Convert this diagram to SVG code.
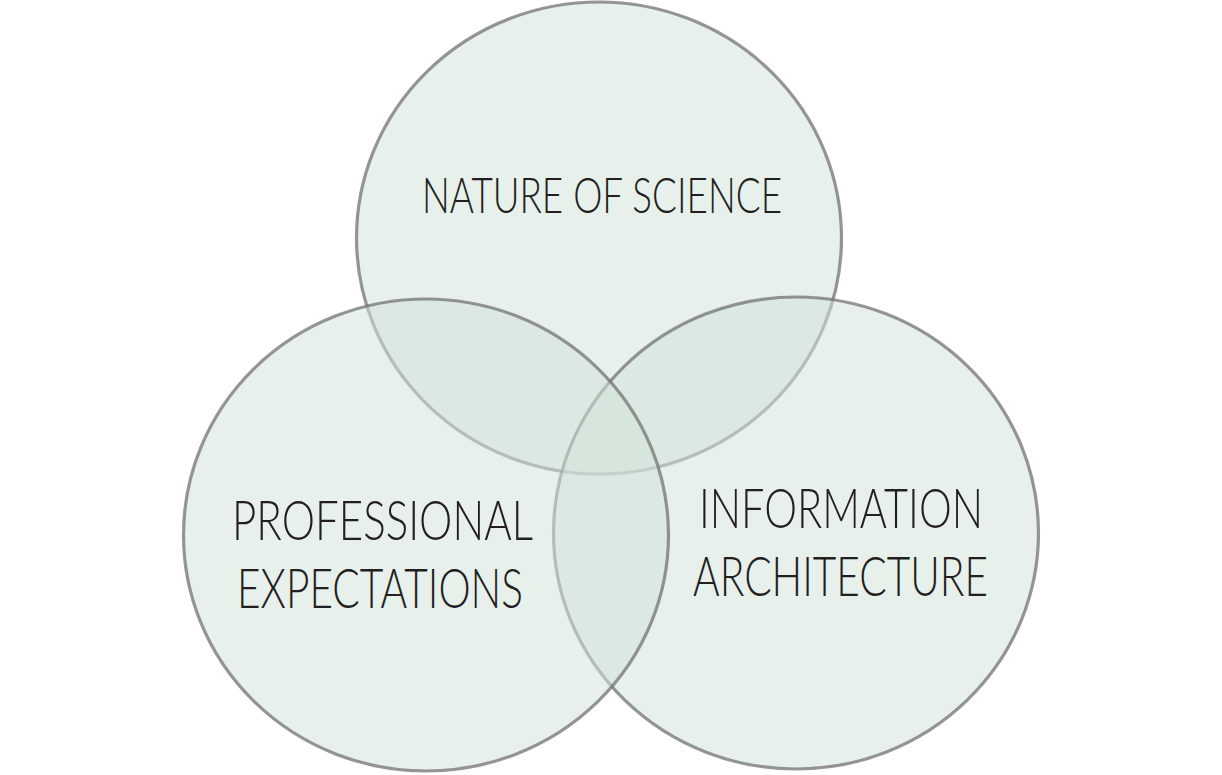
<svg xmlns="http://www.w3.org/2000/svg" width="1222" height="775" viewBox="0 0 1222 775">
  <style>
    .set { fill: #d2e3d9; fill-opacity: 0.53; stroke: #737373; stroke-opacity: 0.75; stroke-width: 3.2; }
    .lbl { font-family: Lato, "Liberation Sans", sans-serif; font-weight: 300; fill: #231f20; }
  </style>
  <rect width="1222" height="775" fill="#ffffff"/>
  <g id="nature-of-science">
    <ellipse class="set" cx="599" cy="238" rx="242.5" ry="236"/>
    <text class="lbl" x="422" y="213" font-size="49" textLength="360" lengthAdjust="spacingAndGlyphs">NATURE OF SCIENCE</text>
  </g>
  <g id="information-architecture">
    <ellipse class="set" cx="796" cy="533" rx="242.5" ry="236"/>
    <text class="lbl" x="699" y="528" font-size="56" textLength="284" lengthAdjust="spacingAndGlyphs">INFORMATION</text>
    <text class="lbl" x="693" y="596" font-size="56" textLength="295" lengthAdjust="spacingAndGlyphs">ARCHITECTURE</text>
  </g>
  <g id="professional-expectations">
    <ellipse class="set" cx="426" cy="535" rx="242.5" ry="236"/>
    <text class="lbl" x="232" y="540" font-size="56" textLength="301" lengthAdjust="spacingAndGlyphs">PROFESSIONAL</text>
    <text class="lbl" x="237" y="608" font-size="56" textLength="286" lengthAdjust="spacingAndGlyphs">EXPECTATIONS</text>
  </g>
  <g id="connectors"></g>
</svg>
